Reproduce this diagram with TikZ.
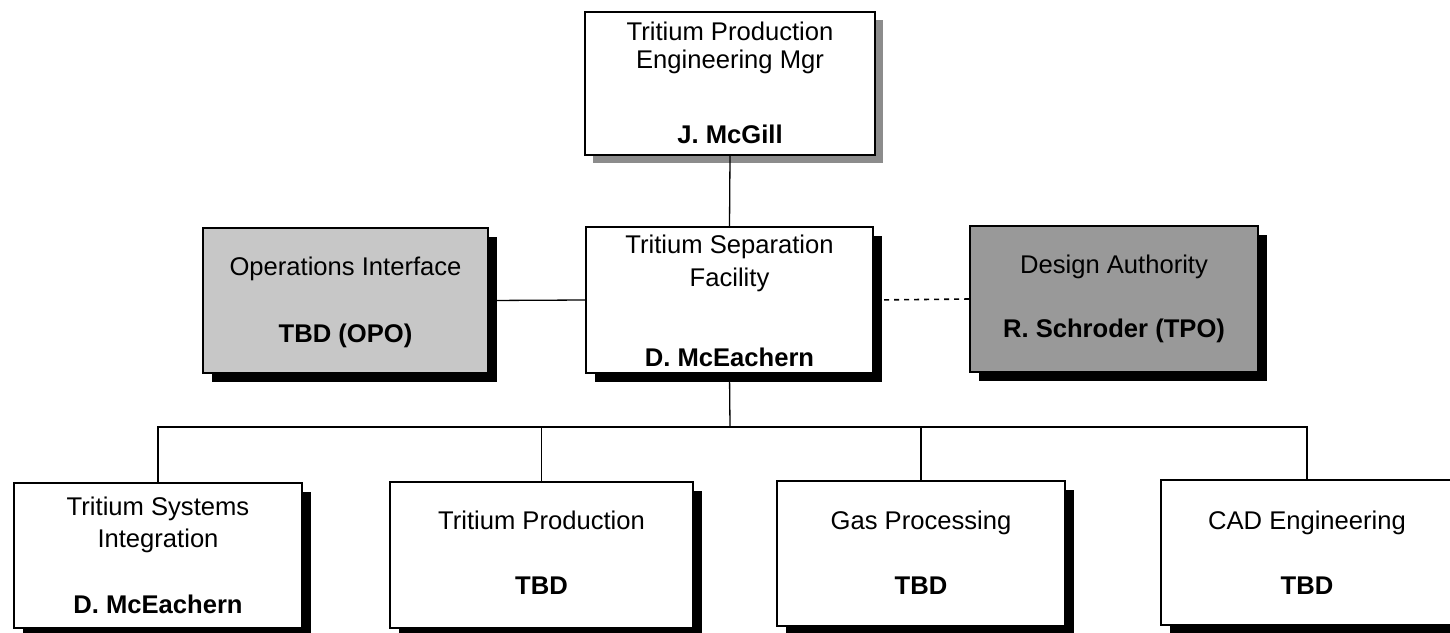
\documentclass[tikz,border=0pt]{standalone}
\usepackage{fontspec}
\setmainfont{Liberation Sans}
\usetikzlibrary{shadows}
\begin{document}
\begin{tikzpicture}[x=1pt,y=-1pt,
  box/.style={draw=black, line width=2pt, fill=white, rectangle, inner sep=0pt,
    drop shadow={shadow xshift=9pt, shadow yshift=-9pt, fill=black, opacity=1}},
  greyshadowbox/.style={draw=black, line width=2pt, fill=white, rectangle, inner sep=0pt,
    drop shadow={shadow xshift=8pt, shadow yshift=-8pt, fill=black!45, opacity=1}},
  txt/.style={anchor=base, inner sep=0pt, font=\fontsize{25.6}{30}\selectfont},
  btxt/.style={txt, font=\fontsize{25.6}{30}\selectfont\bfseries},
  conn/.style={draw=black, line width=1.3pt},
  dotconn/.style={draw=black, line width=1.6pt, dash pattern=on 5pt off 5pt}
]
\useasboundingbox (0,0) rectangle (1450,632);
\clip (0,0) rectangle (1450,632);
\fill[white] (0,0) rectangle (1450,632);

% boxes
\node[greyshadowbox, minimum width=290pt, minimum height=143pt] (top) at (730,83.5) {};
\node[box, minimum width=287pt, minimum height=146pt] (sep) at (729.5,300) {};
\node[box, fill=black!22, minimum width=285pt, minimum height=145pt] (ops) at (345.5,300.5) {};
\node[box, fill=black!40, minimum width=288pt, minimum height=146pt] (da) at (1114,299) {};
\node[box, minimum width=288pt, minimum height=145pt] (tsi) at (158,555.5) {};
\node[box, minimum width=303pt, minimum height=146pt] (tp) at (541.5,555) {};
\node[box, minimum width=288pt, minimum height=145pt] (gas) at (921,553) {};
\node[box, minimum width=292pt, minimum height=145pt] (cad) at (1307,552.5) {};

% connectors
\coordinate (bus) at (730,427);
\draw[conn] (top.south) -- (sep.north);
\draw[conn] (ops.east) -- (sep.west);
\draw[dotconn] (sep.east) -- (da.west);
\draw[conn] (sep.south) -- (bus);
\draw[conn] (tsi.north) |- (bus);
\draw[conn] (tp.north) |- (bus);
\draw[conn] (gas.north) |- (bus);
\draw[conn] (cad.north) |- (bus);

% texts
\node[txt] (topa) at (730,40) {Tritium Production};
\node[txt] (topb) at (730,68) {Engineering Mgr};
\node[btxt] (topn) at (730,143) {J. McGill};

\node[txt] (sepa) at (729.5,253) {Tritium Separation};
\node[txt] (sepb) at (729.5,286) {Facility};
\node[btxt] (sepn) at (729.5,366) {D. McEachern};

\node[txt] (opsa) at (345.5,275) {Operations Interface};
\node[btxt] (opsn) at (345.5,342) {TBD (OPO)};

\node[txt] (daa) at (1114,273) {Design Authority};
\node[btxt] (dan) at (1114,337) {R. Schroder (TPO)};

\node[txt] (tsia) at (158,515) {Tritium Systems};
\node[txt] (tsib) at (158,547) {Integration};
\node[btxt] (tsin) at (158,613) {D. McEachern};

\node[txt] (tpa) at (541.5,529) {Tritium Production};
\node[btxt] (tpn) at (541.5,594) {TBD};

\node[txt] (gasa) at (921,529) {Gas Processing};
\node[btxt] (gasn) at (921,594) {TBD};

\node[txt] (cada) at (1307,529) {CAD Engineering};
\node[btxt] (cadn) at (1307,594) {TBD};
\end{tikzpicture}
\end{document}
